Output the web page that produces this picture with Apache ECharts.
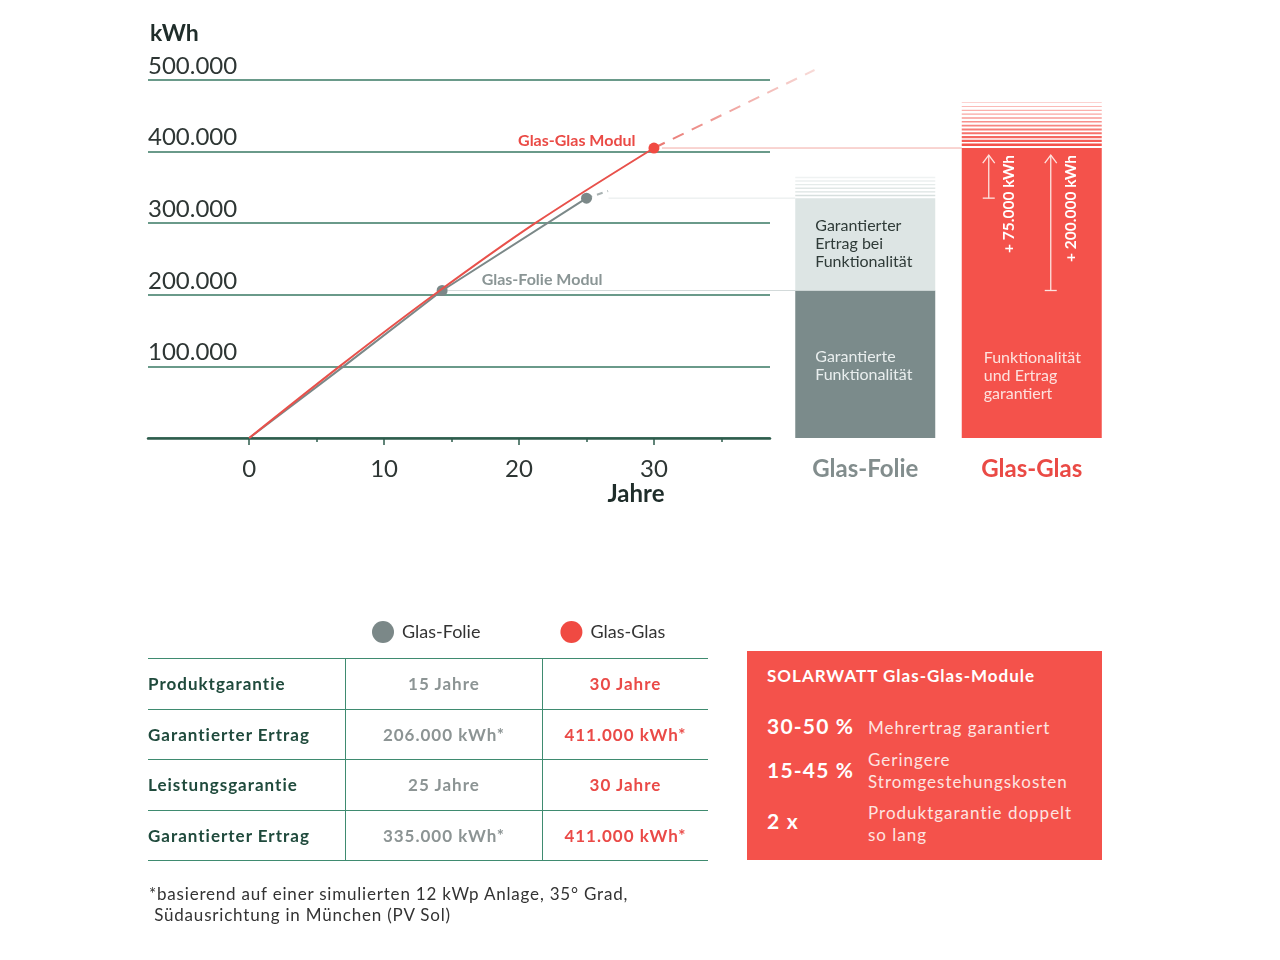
<!DOCTYPE html>
<html>
<head>
<meta charset="utf-8">
<script src="https://cdn.jsdelivr.net/npm/echarts@6/dist/echarts.min.js"></script>
<style>
    html, body { margin: 0; padding: 0; background: #fff; }
    body { font-family: Lato, "Open Sans", sans-serif; }
    #chart { position: absolute; left: 0; top: 0; width: 1280px; height: 960px; }
    #facts { position: absolute; left: 148px; top: 658px; width: 560px; border-collapse: collapse; font-size: 17px; font-weight: bold; letter-spacing: 1px; }
    #facts td { height: 49.5px; border-top: 1.5px solid #3f8b70; border-bottom: 1.5px solid #3f8b70; padding: 0; }
    #facts td + td { border-left: 1.5px solid #3f8b70; text-align: center; }
    #facts td.label { color: #1f4a3c; width: 197px; }
    #facts td.folie { color: #8c9494; width: 196px; }
    #facts td.glas { color: #ea4a47; }
    #box { position: absolute; left: 747px; top: 651px; width: 355px; height: 209px; background: #f4524b; color: #fff; }
    #box div { position: absolute; white-space: nowrap; }
    #box .title { left: 20px; top: 14px; font-size: 17px; font-weight: bold; letter-spacing: 1px; }
    #box .big { left: 20px; font-size: 21px; font-weight: bold; letter-spacing: 1.2px; }
    #box .text { left: 121px; font-size: 17px; line-height: 22px; letter-spacing: 1px; color: #fde4e1; }
    #note { position: absolute; left: 149px; top: 883px; font-size: 17px; line-height: 21px; letter-spacing: 0.8px; color: #333; }
</style>
</head>
<body>
<div id="chart"></div>
<table id="facts"></table>
<div id="box"></div>
<div id="note">*basierend auf einer simulierten 12 kWp Anlage, 35° Grad,<br>&nbsp;Südausrichtung in München (PV Sol)</div>
<script>
    // kumulierter Ertrag über die Jahre
    var folieYears = [0, 7.0, 14.3, 25];
    var folieKwh = [0, 100000, 206000, 335000];
    var glasYears = [0, 6.7, 13.7, 21.2, 30];
    var glasKwh = [0, 100000, 200000, 300000, 405000];
    // gestrichelte Fortsetzung
    var folieTrendYears = [25, 26.6];
    var folieTrendKwh = [335000, 345000];
    var glasTrendYears = [30, 41.9];
    var glasTrendKwh = [405000, 514000];

    var majorYears = [0, 10, 20, 30];
    var minorYears = [5, 15, 25, 35];

    // Balken rechts
    var barCategories = ['Glas-Folie', 'Glas-Glas'];
    var funktionKwh = [206000, 405000];
    var ertragTotalKwh = [335000, null];

    // Tabelle
    var factLabels = ['Produktgarantie', 'Garantierter Ertrag', 'Leistungsgarantie', 'Garantierter Ertrag'];
    var factFolie = ['15 Jahre', '206.000 kWh*', '25 Jahre', '335.000 kWh*'];
    var factGlas = ['30 Jahre', '411.000 kWh*', '30 Jahre', '411.000 kWh*'];

    var boxFigures = ['30-50 %', '15-45 %', '2 x'];
    var boxTexts = ['Mehrertrag garantiert', 'Geringere<br>Stromgestehungskosten', 'Produktgarantie doppelt<br>so lang'];

    var GRAY = '#7b8888';
    var RED = '#f04a42';
    var GRID_GREEN = '#6a9a8a';
    var AXIS_GREEN = '#2e5c4c';
    var FONT = 'Lato, "Open Sans", sans-serif';

    var X_MIN = -7.5, X_MAX = 38.6, X_MAX_TREND = 50;

    function pairs(xs, ys) {
        return xs.map(function (x, i) { return [x, ys[i]]; });
    }
    function thousands(v) {
        return String(v).replace(/\B(?=(\d{3})+(?!\d))/g, '.');
    }

    // --- table and box (html) ---
    var rows = '';
    factLabels.forEach(function (label, i) {
        rows += '<tr><td class="label">' + label + '</td><td class="folie">' + factFolie[i] +
            '</td><td class="glas">' + factGlas[i] + '</td></tr>';
    });
    document.getElementById('facts').innerHTML = rows;

    var boxTops = [[62, 66], [106, 98], [157, 151]];
    var boxHtml = '<div class="title">SOLARWATT Glas-Glas-Module</div>';
    boxFigures.forEach(function (f, i) {
        boxHtml += '<div class="big" style="top:' + boxTops[i][0] + 'px">' + f + '</div>';
        boxHtml += '<div class="text" style="top:' + boxTops[i][1] + 'px">' + boxTexts[i] + '</div>';
    });
    document.getElementById('box').innerHTML = boxHtml;

    // --- chart ---
    var chart = echarts.init(document.getElementById('chart'));

    var folieLabelIdx = 2;
    var glasLabelIdx = glasYears.length - 1;

    // the trend grid uses the same px per year as the main grid, only wider
    var mainLeft = 148, mainWidth = 622;
    var trendWidth = mainWidth * (X_MAX_TREND - X_MIN) / (X_MAX - X_MIN);

    var option = {
        animation: false,
        textStyle: { fontFamily: FONT },
        legend: {
            data: ['Glas-Folie', 'Glas-Glas'],
            left: 372,
            top: 621,
            padding: 0,
            icon: 'circle',
            itemWidth: 22,
            itemHeight: 22,
            itemGap: 80,
            textStyle: { fontSize: 18, color: '#333', fontFamily: FONT, padding: [0, 0, 0, 3] }
        },
        grid: [
            { left: mainLeft, width: mainWidth, top: 80, bottom: 522 },
            { left: 782, right: 165, top: 80, bottom: 522 },
            { left: mainLeft, width: trendWidth, top: 80, bottom: 522 }
        ],
        xAxis: [
            {
                type: 'value', gridIndex: 0, position: 'bottom', min: X_MIN, max: X_MAX,
                axisLine: { lineStyle: { color: AXIS_GREEN, width: 2.5 } },
                axisTick: { customValues: majorYears, length: 7, lineStyle: { color: AXIS_GREEN, width: 1.5 } },
                axisLabel: { customValues: majorYears, fontSize: 24, color: '#2e3634', margin: 19, fontFamily: FONT },
                splitLine: { show: false }
            },
            {
                type: 'value', gridIndex: 0, position: 'bottom', offset: 0, min: X_MIN, max: X_MAX,
                axisLine: { show: false },
                axisTick: { customValues: minorYears, length: 4, lineStyle: { color: AXIS_GREEN, width: 1.5 } },
                axisLabel: { show: false },
                splitLine: { show: false }
            },
            {
                type: 'category', gridIndex: 1, data: barCategories,
                axisLine: { show: false },
                axisTick: { show: false },
                axisLabel: {
                    fontSize: 24, fontWeight: 'bold', margin: 19, fontFamily: FONT,
                    color: function (v, i) { return i === 0 ? '#828d8d' : '#ea4a45'; }
                }
            },
            { type: 'value', gridIndex: 2, min: X_MIN, max: X_MAX_TREND, show: false }
        ],
        yAxis: [
            {
                type: 'value', gridIndex: 0, min: 0, max: 500000, interval: 100000,
                axisLine: { show: false },
                axisTick: { show: false },
                axisLabel: {
                    inside: true, align: 'left', verticalAlign: 'bottom', margin: 0,
                    padding: [0, 0, 2, 0], fontSize: 24, color: '#2e3634', fontFamily: FONT,
                    formatter: function (v) { return v === 0 ? '' : thousands(v); }
                },
                splitLine: { lineStyle: { color: GRID_GREEN, width: 2 } }
            },
            { type: 'value', gridIndex: 1, min: 0, max: 500000, show: false },
            { type: 'value', gridIndex: 2, min: 0, max: 500000, show: false }
        ],
        series: [
            {
                name: 'Glas-Folie Trend', type: 'line', xAxisIndex: 3, yAxisIndex: 2,
                data: pairs(folieTrendYears, folieTrendKwh),
                showSymbol: false, clip: false,
                lineStyle: { width: 2, color: '#a9b2b2', type: [6, 5] },
                z: 2
            },
            {
                name: 'Glas-Glas Trend', type: 'line', xAxisIndex: 3, yAxisIndex: 2,
                data: pairs(glasTrendYears, glasTrendKwh),
                showSymbol: false, clip: false,
                lineStyle: {
                    width: 2, type: [12, 9],
                    color: new echarts.graphic.LinearGradient(0, 0, 1, 0, [
                        { offset: 0, color: '#e9736d' },
                        { offset: 1, color: '#f8dcd9' }
                    ])
                },
                z: 2
            },
            {
                name: 'Glas-Folie', type: 'line', xAxisIndex: 0, yAxisIndex: 0,
                data: pairs(folieYears, folieKwh),
                color: GRAY,
                lineStyle: { width: 2, color: GRAY },
                symbol: 'circle',
                symbolSize: function (v, p) { return p.dataIndex >= folieLabelIdx ? 11 : 0; },
                label: {
                    show: true, position: 'right', distance: 34, offset: [0, -11],
                    fontSize: 16, fontWeight: 'bold', color: '#8a9595', fontFamily: FONT,
                    formatter: function (p) { return p.dataIndex === folieLabelIdx ? 'Glas-Folie Modul' : ''; }
                },
                z: 3
            },
            {
                name: 'Glas-Glas', type: 'line', xAxisIndex: 0, yAxisIndex: 0,
                data: pairs(glasYears, glasKwh),
                color: RED,
                smooth: 0.3,
                lineStyle: { width: 2, color: '#e8514b' },
                symbol: 'circle',
                symbolSize: function (v, p) { return p.dataIndex === glasLabelIdx ? 11 : 0; },
                label: {
                    show: true, position: 'left', distance: 13, offset: [0, -7],
                    fontSize: 16, fontWeight: 'bold', color: '#ea4a45', fontFamily: FONT,
                    formatter: function (p) { return p.dataIndex === glasLabelIdx ? 'Glas-Glas Modul' : ''; }
                },
                z: 4
            },
            {
                name: 'Funktionalität', type: 'bar', xAxisIndex: 2, yAxisIndex: 1, stack: 'bar',
                barWidth: 140,
                data: [
                    { value: funktionKwh[0], itemStyle: { color: '#7b8b8b' }, label: { position: [20, 57], formatter: 'Garantierte\nFunktionalität', color: '#e9eeee' } },
                    { value: funktionKwh[1], itemStyle: { color: '#f4524b' }, label: { position: [22, 201], formatter: 'Funktionalität\nund Ertrag\ngarantiert', color: '#fde2de' } }
                ],
                label: { show: true, align: 'left', verticalAlign: 'top', fontSize: 16, lineHeight: 18, fontFamily: FONT }
            },
            {
                name: 'Ertrag', type: 'bar', xAxisIndex: 2, yAxisIndex: 1, stack: 'bar',
                barWidth: 140,
                data: [ertragTotalKwh[0] - funktionKwh[0], '-'],
                itemStyle: { color: '#dde5e4' },
                label: {
                    show: true, position: [20, 19], align: 'left', verticalAlign: 'top',
                    fontSize: 16, lineHeight: 18, color: '#2f3b38', fontFamily: FONT,
                    formatter: 'Garantierter\nErtrag bei\nFunktionalität'
                }
            }
        ]
    };
    chart.setOption(option);

    // --- annotations computed through the axes ---
    function linePx(x, y) { return chart.convertToPixel({ xAxisIndex: 0, yAxisIndex: 0 }, [x, y]); }
    function barPx(cat, y) { return chart.convertToPixel({ xAxisIndex: 2, yAxisIndex: 1 }, [cat, y]); }

    var half = 70;
    var folieTop = barPx(barCategories[0], ertragTotalKwh[0]);
    var folieMid = barPx(barCategories[0], funktionKwh[0]);
    var glasTop = barPx(barCategories[1], funktionKwh[1]);
    var glasAtFolie = barPx(barCategories[1], ertragTotalKwh[0]);
    var glasAtFolieMid = barPx(barCategories[1], funktionKwh[0]);
    var glasEnd = linePx(glasYears[glasYears.length - 1], glasKwh[glasKwh.length - 1]);
    var folieEnd = linePx(folieYears[folieYears.length - 1], folieKwh[folieKwh.length - 1]);
    var folieMidPt = linePx(folieYears[folieLabelIdx], folieKwh[folieLabelIdx]);

    var graphics = [];
    function hline(x1, x2, y, color) {
        graphics.push({ type: 'line', shape: { x1: x1, y1: y, x2: x2, y2: y }, style: { stroke: color, lineWidth: 1 }, z: 1 });
    }
    hline(glasEnd[0] + 8, glasTop[0] - half, glasTop[1], '#f2aaa5');
    hline(folieEnd[0] + 22, folieTop[0] - half, folieTop[1], '#e4e9e9');
    hline(folieMidPt[0] + 6, folieMid[0] - half, folieMid[1], '#d3dada');

    // stripes above the bars
    var i, yy;
    for (i = 0; i < 12; i++) {
        yy = glasTop[1] - 2 - i * 3.9;
        var th = 2.6 - i * 0.15;
        graphics.push({ type: 'rect', shape: { x: glasTop[0] - half, y: yy - th, width: 2 * half, height: th },
            style: { fill: '#f4524b', opacity: 1 - i * 0.06 }, z: 5 });
    }
    for (i = 0; i < 6; i++) {
        yy = folieTop[1] - 2 - i * 3.6;
        graphics.push({ type: 'rect', shape: { x: folieTop[0] - half, y: yy - 1.4, width: 2 * half, height: 1.4 },
            style: { fill: '#d7dfde', opacity: 1 - i * 0.12 }, z: 5 });
    }

    // arrows in the Glas-Glas bar
    function arrow(x, top, bottom, text, textX) {
        var stroke = { stroke: '#fde3df', lineWidth: 1.3 };
        graphics.push({ type: 'line', shape: { x1: x, y1: top, x2: x, y2: bottom }, style: stroke, z: 6 });
        graphics.push({ type: 'polyline', shape: { points: [[x - 6, top + 8], [x, top], [x + 6, top + 8]] }, style: stroke, z: 6 });
        graphics.push({ type: 'line', shape: { x1: x - 6, y1: bottom, x2: x + 6, y2: bottom }, style: stroke, z: 6 });
        graphics.push({ type: 'text', x: textX, y: top, rotation: Math.PI / 2, z: 6,
            style: { text: text, fill: '#fff', font: 'bold 15.5px ' + FONT, align: 'right', verticalAlign: 'middle' } });
    }
    arrow(glasTop[0] - 43, glasTop[1] + 7, glasAtFolie[1], '+ 75.000 kWh', glasTop[0] - 23);
    arrow(glasTop[0] + 19, glasTop[1] + 7, glasAtFolieMid[1], '+ 200.000 kWh', glasTop[0] + 39);

    // axis titles
    graphics.push({ type: 'text', x: 150, y: 34, style: { text: 'kWh', fill: '#1f2d2a', font: 'bold 23px ' + FONT, verticalAlign: 'middle' } });
    graphics.push({ type: 'text', x: 636, y: 494, style: { text: 'Jahre', fill: '#1f2d2a', font: 'bold 24px ' + FONT, align: 'center', verticalAlign: 'middle' } });

    chart.setOption({ graphic: graphics });
</script>
</body>
</html>
